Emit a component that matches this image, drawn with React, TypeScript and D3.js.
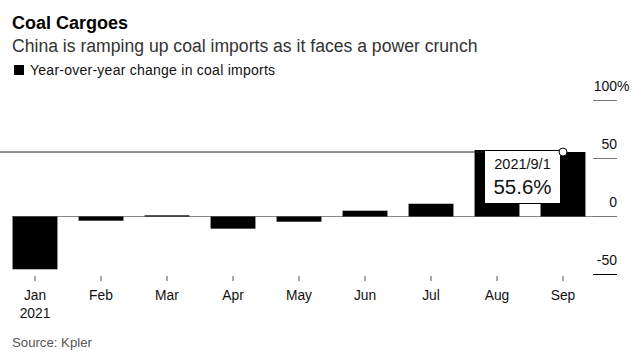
import React from "react";
import * as d3 from "d3";

const months = ["Jan", "Feb", "Mar", "Apr", "May", "Jun", "Jul", "Aug", "Sep"];
const values = [-45.5, -3.6, 1.0, -10.5, -4.5, 5.0, 11.0, 57.3, 55.6];
const yTicks = [100, 50, 0, -50];
const title = "Coal Cargoes";
const subtitle = "China is ramping up coal imports as it faces a power crunch";
const legendLabel = "Year-over-year change in coal imports";
const source = "Source: Kpler";
const tooltipDate = "2021/9/1";
const tooltipIndex = 8;

const W = 644;
const H = 357;
const FONT = "'Liberation Sans', Arial, Helvetica, sans-serif";

export default function App() {
  const x = d3.scaleBand<string>().domain(months).range([2, 596]).paddingInner(0.32).paddingOuter(0.16);
  const y = d3.scaleLinear().domain([-50, 100]).range([274.5, 100.5]);
  const y0 = y(0);
  const hoverMonth = months[tooltipIndex];
  const hx = (x(hoverMonth) as number) + x.bandwidth() / 2;
  const hy = y(values[tooltipIndex]);

  return (
    <svg
      width={W}
      height={H}
      style={{ position: "absolute", left: 0, top: 0, background: "#fff" }}
      fontFamily={FONT}
    >
      <rect x={0} y={0} width={W} height={H} fill="#fff" />
      <text x={12} y={29} fontSize={18} fontWeight="bold" fill="#000">{title}</text>
      <text x={12} y={52} fontSize={17.6} fill="#333">{subtitle}</text>
      <rect x={14} y={65} width={10} height={10} fill="#000" />
      <text x={30} y={75} fontSize={14} letterSpacing={0.25} fill="#111">{legendLabel}</text>

      {/* zero line */}
      <line x1={12} x2={617} y1={y0} y2={y0} stroke="#888" strokeWidth={1} />

      {/* y grid stubs + labels */}
      {yTicks.map((t) => (
        <g key={t}>
          <line x1={593} x2={617} y1={y(t)} y2={y(t)} stroke={t === -50 ? "#000" : "#777"} strokeWidth={1} />
          <text x={617} y={y(t) - 10} fontSize={14} textAnchor="end" fill="#111">{String(t)}</text>
          {t === 100 && (
            <text x={617} y={y(t) - 10} fontSize={14} textAnchor="start" fill="#111">%</text>
          )}
        </g>
      ))}

      {/* bars */}
      {months.map((m, i) => {
        const v = values[i];
        const top = Math.min(y(v), y0);
        const h = Math.abs(y(v) - y0);
        return <rect key={m} x={x(m)} y={top} width={x.bandwidth()} height={Math.max(h, 1)} fill="#000" />;
      })}

      {/* x ticks and labels */}
      {months.map((m) => {
        const cx = (x(m) as number) + x.bandwidth() / 2;
        return (
          <g key={m}>
            <line x1={cx} x2={cx} y1={276} y2={281} stroke="#555" strokeWidth={1} />
            <text x={cx} y={300} fontSize={13.8} textAnchor="middle" fill="#111">{m}</text>
            {m === "Jan" && (
              <text x={cx} y={318} fontSize={13.8} textAnchor="middle" fill="#111">2021</text>
            )}
          </g>
        );
      })}

      {/* hover crosshair */}
      <line x1={0} x2={hx} y1={hy} y2={hy} stroke="#222" strokeWidth={1} />
      <rect x={484.5} y={150.5} width={76} height={53} fill="#fff" stroke="#000" strokeWidth={1} />
      <text x={522.5} y={168.5} fontSize={14.5} textAnchor="middle" fill="#111">{tooltipDate}</text>
      <text x={522.5} y={193.5} fontSize={20.5} textAnchor="middle" fill="#111">{`${values[tooltipIndex]}%`}</text>
      <circle cx={hx} cy={hy} r={4} fill="#fff" stroke="#000" strokeWidth={1} />

      <text x={12} y={347} fontSize={13.2} fill="#555">{source}</text>
    </svg>
  );
}
